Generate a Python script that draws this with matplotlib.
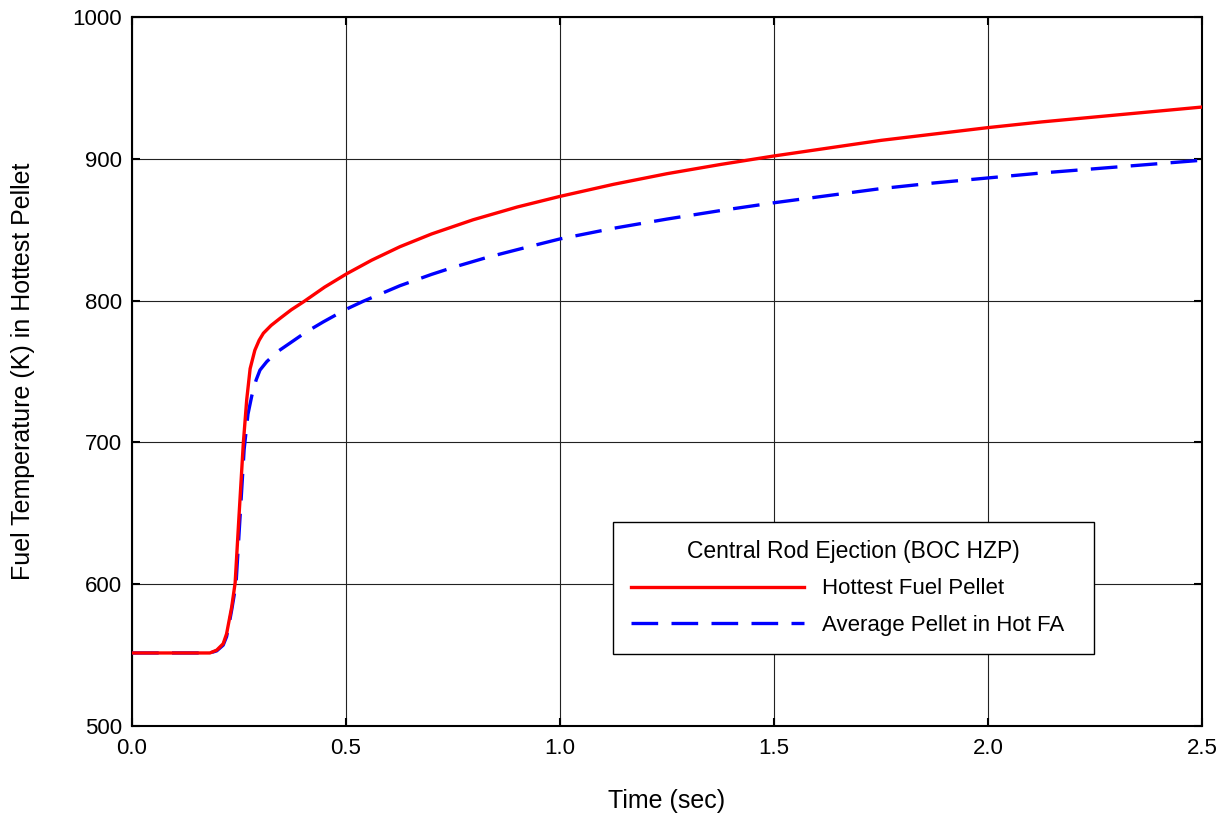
import matplotlib.pyplot as plt

plt.rcParams['font.family'] = ['Liberation Sans', 'DejaVu Sans']

hot_t = [0.0, 0.182, 0.198, 0.213, 0.221, 0.227, 0.233, 0.241, 0.250, 0.260,
         0.268, 0.276, 0.287, 0.297, 0.307, 0.325, 0.346, 0.372, 0.400, 0.45,
         0.502, 0.56, 0.626, 0.70, 0.797, 0.90, 1.0, 1.125, 1.25, 1.375, 1.5,
         1.625, 1.75, 1.875, 2.0, 2.125, 2.25, 2.375, 2.5]
hot_temp = [551.5, 551.5, 553.5, 558, 565, 574.5, 584, 601, 648, 699,
            730, 752, 765, 772, 777, 782.5, 787.5, 793.5, 799, 809.5,
            819, 828.5, 838, 847, 857, 866, 873.5, 882, 889.5, 896, 902,
            907.5, 913, 917.5, 922, 926, 929.5, 933, 936.5]

avg_t = [0.0, 0.182, 0.198, 0.213, 0.221, 0.227, 0.233, 0.243, 0.252, 0.262,
         0.271, 0.280, 0.290, 0.299, 0.315, 0.34, 0.369, 0.405, 0.447, 0.501,
         0.540, 0.626, 0.70, 0.751, 0.83, 0.914, 1.0, 1.125, 1.25, 1.375,
         1.5, 1.625, 1.75, 1.875, 2.0, 2.125, 2.25, 2.375, 2.5]
avg_temp = [551.5, 551.5, 553, 557, 563, 572, 582, 600, 645, 695,
            720, 733, 744, 751, 757, 764, 770, 777.5, 785, 794,
            799.5, 810.5, 818.5, 823.5, 830.5, 837, 843.5, 851, 857.5, 863.5,
            869, 874, 879, 883, 886.5, 890, 893, 896, 899]

x_ticks = [0.0, 0.5, 1.0, 1.5, 2.0, 2.5]
y_ticks = [500, 600, 700, 800, 900, 1000]


def main():
    fig = plt.figure(figsize=(12.29, 8.18), dpi=100)
    ax = fig.add_axes([132 / 1229, 1 - 726 / 818, 1070 / 1229, 709 / 818])

    # blue first so the red sits on top in the rise
    ax.plot(avg_t, avg_temp, color='#0000ff', lw=2.4, dashes=(8, 4),
            label='Average Pellet in Hot FA', zorder=3)
    ax.plot(hot_t, hot_temp, color='#ff0000', lw=2.4,
            label='Hottest Fuel Pellet', zorder=4)

    ax.set_xlim(0, 2.5)
    ax.set_ylim(500, 1000)
    ax.set_xticks(x_ticks)
    ax.set_xticklabels([f'{v:.1f}' for v in x_ticks])
    ax.set_yticks(y_ticks)
    ax.grid(True, color='#222222', lw=0.8)
    ax.tick_params(direction='in', length=6, width=1.5, labelsize=16,
                   top=True, right=True)
    ax.tick_params(axis='x', pad=9)
    ax.tick_params(axis='y', pad=7)
    for sp in ax.spines.values():
        sp.set_linewidth(1.5)

    ax.set_xlabel('Time (sec)', fontsize=18, labelpad=21)
    ax.set_ylabel('Fuel Temperature (K) in Hottest Pellet', fontsize=18,
                  labelpad=27)

    handles, labels = ax.get_legend_handles_labels()
    leg = ax.legend(handles[::-1], labels[::-1],
                    title='Central Rod Ejection (BOC HZP)', fontsize=16,
                    title_fontsize=16.5, loc='upper left',
                    bbox_to_anchor=(481 / 1070, (726 - 647) / 709,
                                    481 / 1070, 125 / 709),
                    mode='expand', borderaxespad=0, handlelength=7.8,
                    handletextpad=0.8, labelspacing=0.7, fancybox=False,
                    framealpha=1, edgecolor='black', borderpad=0.8)
    leg.get_frame().set_linewidth(1.0)

    fig.savefig('out.png', dpi=100)


if __name__ == '__main__':
    main()
